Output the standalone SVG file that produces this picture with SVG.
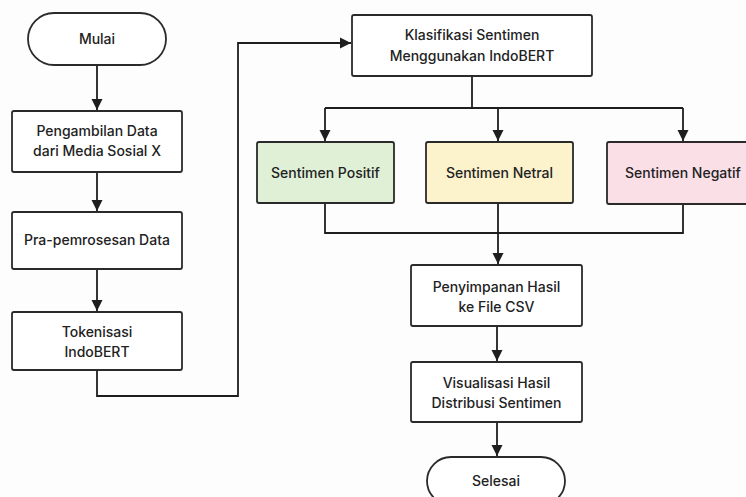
<svg xmlns="http://www.w3.org/2000/svg" width="746" height="497" viewBox="0 0 746 497">
<defs>
<marker id="arr" markerUnits="userSpaceOnUse" markerWidth="12" markerHeight="12" refX="11" refY="6" orient="auto">
<path d="M0,0.5 L11,6 L0,11.5 Z" fill="#1e1e1e"/>
</marker>
</defs>
<style>
.box{fill:#ffffff;stroke:#2a2a2a;stroke-width:1.8}
.t{font-family:Inter,"Noto Sans",sans-serif;font-size:14px;font-weight:500;fill:#222;text-anchor:middle}
.c{fill:none;stroke:#1e1e1e;stroke-width:1.8}
</style>
<rect width="746" height="497" fill="#fdfdfd"/>
<g id="connectors">
<path class="c" d="M97,65 V110" marker-end="url(#arr)"/>
<path class="c" d="M97,172 V211" marker-end="url(#arr)"/>
<path class="c" d="M97,269 V311" marker-end="url(#arr)"/>
<path class="c" d="M97,370 V396 H238 V43 H351" marker-end="url(#arr)"/>
<path class="c" d="M472,76 V108"/>
<path class="c" d="M325,108 H683"/>
<path class="c" d="M325,108 V141" marker-end="url(#arr)"/>
<path class="c" d="M498,108 V141" marker-end="url(#arr)"/>
<path class="c" d="M683,108 V141" marker-end="url(#arr)"/>
<path class="c" d="M325,203 V233 H683 V204"/>
<path class="c" d="M498,203 V264" marker-end="url(#arr)"/>
<path class="c" d="M497,326 V361" marker-end="url(#arr)"/>
<path class="c" d="M497,422 V456" marker-end="url(#arr)"/>
</g>
<g id="mulai">
<rect class="box" x="28" y="13" width="138" height="52" rx="26"/>
<text class="t" x="97" y="44">Mulai</text>
</g>
<g id="pengambilan">
<rect class="box" x="12" y="111" width="170" height="61" rx="2"/>
<text class="t" x="97" y="136">Pengambilan Data</text>
<text class="t" x="97" y="156">dari Media Sosial X</text>
</g>
<g id="pra">
<rect class="box" x="12" y="212" width="170" height="57" rx="2"/>
<text class="t" x="97" y="245">Pra-pemrosesan Data</text>
</g>
<g id="tokenisasi">
<rect class="box" x="12" y="312" width="170" height="58" rx="2"/>
<text class="t" x="97" y="337">Tokenisasi</text>
<text class="t" x="97" y="357">IndoBERT</text>
</g>
<g id="klasifikasi">
<rect class="box" x="352" y="15" width="240" height="61" rx="2"/>
<text class="t" x="472" y="40">Klasifikasi Sentimen</text>
<text class="t" x="472" y="61">Menggunakan IndoBERT</text>
</g>
<g id="positif">
<rect class="box" x="257" y="142" width="137" height="61" rx="2" style="fill:#dff0d6"/>
<text class="t" x="325.5" y="178">Sentimen Positif</text>
</g>
<g id="netral">
<rect class="box" x="426" y="142" width="147" height="61" rx="2" style="fill:#fcf2cc"/>
<text class="t" x="499.5" y="178">Sentimen Netral</text>
</g>
<g id="negatif">
<rect class="box" x="607" y="142" width="152" height="62" rx="2" style="fill:#fbdfe7"/>
<text class="t" x="683" y="178">Sentimen Negatif</text>
</g>
<g id="penyimpanan">
<rect class="box" x="411" y="265" width="171" height="61" rx="2"/>
<text class="t" x="496.5" y="292">Penyimpanan Hasil</text>
<text class="t" x="496.5" y="312">ke File CSV</text>
</g>
<g id="visualisasi">
<rect class="box" x="411" y="362" width="171" height="60" rx="2"/>
<text class="t" x="496.5" y="388">Visualisasi Hasil</text>
<text class="t" x="496.5" y="408">Distribusi Sentimen</text>
</g>
<g id="selesai">
<rect class="box" x="427" y="457" width="138" height="48" rx="24"/>
<text class="t" x="496" y="486">Selesai</text>
</g>
</svg>
